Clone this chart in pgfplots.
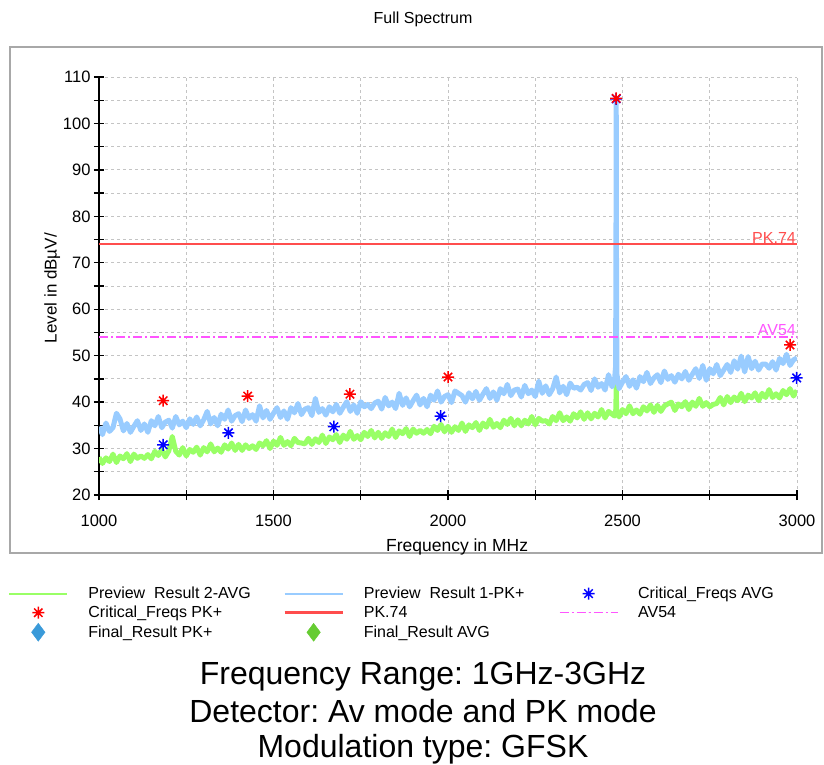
\documentclass[border=0pt]{standalone}
\usepackage{fontspec}
\setmainfont{Liberation Sans}
\usepackage{pgfplots}
\usepackage{pgfplotstable}
\pgfplotsset{compat=1.18}
\frenchspacing

\definecolor{avgreen}{HTML}{99FF66}
\definecolor{pkblue}{HTML}{99CCFF}
\definecolor{pkline}{HTML}{FF4D4D}
\definecolor{avline}{HTML}{FF55FF}
\definecolor{gridgray}{HTML}{C4C4C4}
\definecolor{framegray}{HTML}{A8A8A8}
\definecolor{finalblue}{HTML}{3A9AD9}
\definecolor{finalgreen}{HTML}{66CC33}

% eight-armed asterisk like the receiver software draws
\pgfdeclareplotmark{ast8}{%
  \pgfpathmoveto{\pgfqpoint{0pt}{\pgfplotmarksize}}\pgfpathlineto{\pgfqpoint{0pt}{-\pgfplotmarksize}}%
  \pgfpathmoveto{\pgfqpoint{\pgfplotmarksize}{0pt}}\pgfpathlineto{\pgfqpoint{-\pgfplotmarksize}{0pt}}%
  \pgfpathmoveto{\pgfqpoint{0.7\pgfplotmarksize}{0.7\pgfplotmarksize}}\pgfpathlineto{\pgfqpoint{-0.7\pgfplotmarksize}{-0.7\pgfplotmarksize}}%
  \pgfpathmoveto{\pgfqpoint{0.7\pgfplotmarksize}{-0.7\pgfplotmarksize}}\pgfpathlineto{\pgfqpoint{-0.7\pgfplotmarksize}{0.7\pgfplotmarksize}}%
  \pgfusepathqstroke}

% preview traces: f (MHz), PK+ level, AVG level (dBuV)
\pgfplotstableread{
f pk av
1000 34.7 28.1
1010 33.0 26.8
1020 35.5 28.0
1030 33.7 27.2
1040 34.5 28.8
1050 37.6 27.0
1060 36.4 28.4
1070 33.8 27.8
1080 35.4 28.9
1090 33.5 27.2
1100 34.8 28.8
1110 36.0 27.9
1120 33.9 28.4
1130 35.3 27.9
1140 33.5 28.7
1150 36.0 27.8
1160 34.9 29.4
1170 36.9 28.5
1180 34.5 29.8
1190 35.7 28.2
1200 36.1 29.5
1210 34.4 32.6
1220 36.9 29.4
1230 35.1 28.6
1240 35.9 30.2
1250 34.5 28.4
1260 36.4 29.8
1270 35.2 29.2
1280 36.8 30.3
1290 34.9 28.6
1300 36.2 30.2
1310 38.0 29.3
1320 35.3 31.0
1330 36.7 29.3
1340 34.9 30.1
1350 37.4 29.2
1360 36.3 30.8
1370 38.3 29.9
1380 35.9 31.2
1390 37.1 29.6
1400 37.5 30.9
1410 35.8 29.6
1420 38.3 30.8
1430 36.5 30.0
1440 37.3 30.6
1450 35.9 29.8
1460 39.2 31.2
1470 36.6 30.6
1480 38.2 31.7
1490 36.3 30.0
1500 37.6 31.6
1510 38.8 30.7
1520 36.7 32.4
1530 38.1 30.7
1540 36.3 31.5
1550 38.8 30.6
1560 37.7 32.2
1570 39.7 31.3
1580 37.3 31.2
1590 38.5 31.0
1600 38.8 32.2
1610 37.1 30.9
1620 40.8 32.1
1630 37.8 31.3
1640 38.6 32.9
1650 37.2 31.1
1660 39.0 32.5
1670 37.9 31.9
1680 39.5 33.0
1690 37.6 31.3
1700 38.9 32.9
1710 40.1 32.0
1720 38.0 33.7
1730 39.4 32.0
1740 37.6 32.8
1750 40.1 31.9
1760 39.0 33.5
1770 39.5 32.6
1780 38.6 33.9
1790 39.8 32.3
1800 40.2 33.5
1810 38.5 32.2
1820 41.0 33.4
1830 39.2 32.6
1840 40.0 34.2
1850 38.6 32.4
1860 41.9 33.8
1870 39.3 33.2
1880 40.9 34.3
1890 39.0 32.6
1900 40.3 34.2
1910 41.5 33.3
1920 39.4 33.9
1930 40.8 33.3
1940 39.0 34.1
1950 41.5 33.2
1960 40.4 34.8
1970 42.4 33.9
1980 40.0 35.2
1990 41.2 33.6
2000 41.6 34.8
2010 39.9 33.5
2020 42.4 34.7
2030 41.9 33.9
2040 41.4 35.5
2050 40.0 33.7
2060 42.0 35.1
2070 40.7 34.5
2080 42.3 35.6
2090 40.4 33.9
2100 41.7 35.5
2110 42.9 34.6
2120 40.8 36.3
2130 42.2 34.6
2140 40.4 35.4
2150 42.9 34.5
2160 41.8 36.1
2170 43.8 35.2
2180 41.4 36.5
2190 42.6 34.9
2200 42.8 36.2
2210 41.1 34.9
2220 43.6 36.1
2230 41.8 35.3
2240 42.6 36.9
2250 41.2 35.1
2260 44.5 36.5
2270 41.9 35.9
2280 43.5 36.0
2290 41.6 35.3
2300 42.9 36.9
2310 45.4 36.0
2320 42.0 37.7
2330 43.4 36.0
2340 41.6 36.8
2350 44.1 35.9
2360 43.0 37.5
2370 43.2 36.6
2380 42.6 37.9
2390 43.8 36.3
2400 44.2 37.7
2410 42.5 36.4
2420 45.0 37.6
2430 43.2 36.8
2440 44.0 38.4
2450 42.6 36.6
2460 45.9 38.0
2470 43.3 37.4
2477 44.6 37.0
2480 47.5 38.0
2481 64.0 38.5
2482 105.0 44.5
2483 62.0 39.0
2484 46.0 37.8
2488 44.2 37.2
2490 42.9 36.8
2500 44.3 38.4
2510 45.5 37.5
2520 43.4 39.2
2530 44.8 37.5
2540 43.0 38.3
2550 45.5 37.4
2560 44.4 39.0
2570 46.4 38.1
2580 44.0 39.4
2590 45.2 37.8
2600 45.9 39.3
2610 44.2 38.0
2620 46.7 39.2
2630 44.9 39.6
2640 45.7 40.0
2650 44.3 38.2
2660 46.0 39.6
2670 45.0 39.0
2680 46.6 40.1
2690 44.7 38.4
2700 46.0 40.0
2710 47.2 39.1
2720 45.1 40.8
2730 47.9 39.1
2740 44.7 39.9
2750 47.2 39.0
2760 46.1 39.5
2770 48.1 39.7
2780 45.7 41.0
2790 46.9 39.4
2800 48.1 41.2
2810 46.4 39.9
2820 48.9 41.1
2830 47.1 40.3
2840 49.9 41.9
2850 46.5 40.1
2860 49.8 41.5
2870 47.2 40.9
2880 48.8 42.0
2890 46.9 40.3
2900 48.2 41.9
2910 48.2 41.0
2920 47.3 42.7
2930 48.7 41.0
2940 46.9 41.8
2950 49.4 40.9
2960 48.3 42.5
2970 50.3 41.6
2980 47.9 42.9
2990 49.1 41.3
3000 49.5 42.5
}\spectrum

\begin{document}
\begin{tikzpicture}[x=1pt,y=1pt]
\path[use as bounding box] (0,0) rectangle (824,764);
\draw[framegray, line width=1.2pt] (10,211) rectangle (822,717);
\node[anchor=base, font=\fontsize{16}{19}\selectfont] at (423,740) {Full Spectrum};

\begin{axis}[
  scale only axis,
  width=698pt, height=418pt,
  at={(99pt,269pt)}, anchor=south west,
  xmin=1000, xmax=3000,
  ymin=20, ymax=110,
  xtick={1000,1500,...,3000},
  minor xtick={1250,1750,2250,2750},
  ytick={20,30,...,110},
  minor ytick={25,35,...,105},
  grid=both,
  major grid style={gridgray, dash pattern=on 3pt off 3pt, line width=0.8pt},
  minor grid style={gridgray, dash pattern=on 3pt off 3pt, line width=0.8pt},
  axis x line*=bottom, axis y line*=left,
  axis line style={black, line width=1.3pt, -},
  tick align=center,
  major tick length=10pt, minor tick length=10pt,
  tick style={black, line width=1.3pt},
  /pgf/number format/assume math mode=true,
  /pgf/number format/1000 sep={},
  ticklabel style={font=\fontsize{16.5}{19}\selectfont},
  xticklabel style={yshift=-11pt},
  xlabel={Frequency in MHz},
  xlabel style={at={(axis description cs:0.513,-0.134)}, anchor=base, font=\fontsize{17.5}{20}\selectfont},
  ylabel={Level in dBµV/},
  ylabel style={at={(axis description cs:-0.067,0.495)}, anchor=center, font=\fontsize{17}{20}\selectfont},
  legend columns=3,
  legend cell align=left,
  legend image code/.code={\draw[mark repeat=2,mark phase=2] plot coordinates {(0pt,0pt) (29pt,0pt) (58pt,0pt)};},
  legend style={at={(-0.1304,-0.215)}, anchor=north west, draw=none, fill=none,
    inner sep=0pt, row sep=2pt, font=\fontsize{16}{19}\selectfont,
    cells={inner sep=0pt},
    /tikz/every odd column/.append style={column sep=18pt},
    /tikz/every even column/.append style={column sep=6pt}},
]
% the two preview traces, drawn as dense bands
\addplot[forget plot, color=avgreen, line width=5pt, line join=round, no markers] table[x=f, y=av] {\spectrum};
\addplot[forget plot, color=pkblue, line width=5pt, line join=round, no markers] table[x=f, y=pk] {\spectrum};

\addlegendimage{color=avgreen, line width=2.2pt}
\addlegendentry{\makebox[187pt][l]{Preview\ \ Result 2-AVG}}
\addlegendimage{color=pkblue, line width=2.2pt}
\addlegendentry{\makebox[187pt][l]{Preview\ \ Result 1-PK+}}
\addplot[only marks, mark=ast8, mark size=6pt, color=blue, line width=1.5pt]
  coordinates {(1184,30.8) (1371,33.4) (1673,34.7) (1979,37.0) (2482,105.3) (2999,45.2)};
\addlegendentry{\makebox[187pt][l]{Critical\_Freqs AVG}}
\addplot[only marks, mark=ast8, mark size=6pt, color=red, line width=1.5pt]
  coordinates {(1184,40.3) (1426,41.3) (1719,41.7) (2000,45.4) (2482,105.4) (2980,52.3)};
\addlegendentry{\makebox[187pt][l]{Critical\_Freqs PK+}}
\addplot[color=pkline, line width=2.5pt, no markers] coordinates {(1000,74) (3000,74)};
\addlegendentry{\makebox[187pt][l]{PK.74}}
\addplot[color=avline, line width=1.3pt, dash pattern=on 9pt off 3pt on 2pt off 3pt, no markers] coordinates {(1000,54) (3000,54)};
\addlegendentry{\makebox[187pt][l]{AV54}}
\addlegendimage{only marks, mark=diamond*, mark size=9pt, color=finalblue}
\addlegendentry{\makebox[187pt][l]{Final\_Result PK+}}
\addlegendimage{only marks, mark=diamond*, mark size=9pt, color=finalgreen}
\addlegendentry{\makebox[187pt][l]{Final\_Result AVG}}
\node[anchor=south east, text=pkline, inner sep=1pt, font=\fontsize{16}{19}\selectfont] at (axis cs:3000,74) {PK.74};
\node[anchor=south east, text=avline, inner sep=1pt, font=\fontsize{16}{19}\selectfont] at (axis cs:3000,54) {AV54};
\end{axis}

\node[anchor=base, font=\fontsize{32}{36}\selectfont] at (423,80) {Frequency Range: 1GHz-3GHz};
\node[anchor=base, font=\fontsize{32}{36}\selectfont] at (423,42) {Detector: Av mode and PK mode};
\node[anchor=base, font=\fontsize{32}{36}\selectfont] at (423,7) {Modulation type: GFSK};
\end{tikzpicture}
\end{document}
